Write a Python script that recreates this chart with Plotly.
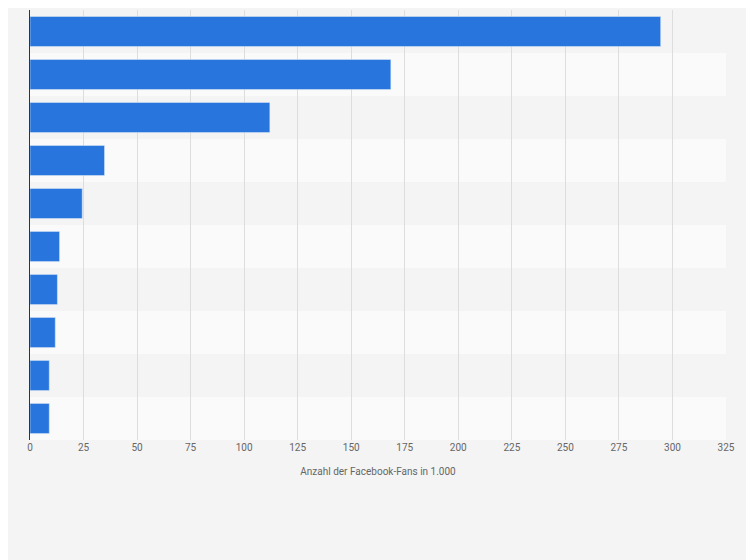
import plotly.graph_objects as go

categories = ["A", "B", "C", "D", "E", "F", "G", "H", "I", "J"]
values = [294.5, 168.5, 112, 34.8, 24.4, 13.8, 12.8, 11.8, 9, 9]
ticks = list(range(0, 326, 25))

fig = go.Figure()
fig.add_trace(go.Bar(x=values, y=categories, orientation="h",
                     marker=dict(color="#2876dd"), width=0.7))

shapes = []
for i, c in enumerate(categories):
    shapes.append(dict(type="rect", xref="paper", yref="y", layer="below",
                       x0=0, x1=1, y0=i - 0.5, y1=i + 0.5, line_width=0,
                       fillcolor="#f4f4f4" if i % 2 == 0 else "#fafafa"))

fig.update_layout(
    width=754, height=560,
    paper_bgcolor="#f4f4f4", plot_bgcolor="#fafafa",
    margin=dict(l=22, r=36, t=2, b=128),
    shapes=shapes, showlegend=False,
    font=dict(family="Roboto, Arial", size=10, color="#666"),
    xaxis=dict(range=[0, 325], tickvals=ticks, showgrid=True,
               gridcolor="#dddddd", zeroline=False, ticks="",
               title=dict(text="Anzahl der Facebook-Fans in 1.000",
                          font=dict(size=10, color="#666"))),
    yaxis=dict(autorange="reversed", showticklabels=False, showline=True,
               linecolor="#333", showgrid=False),
)

fig.write_html("out.html")
